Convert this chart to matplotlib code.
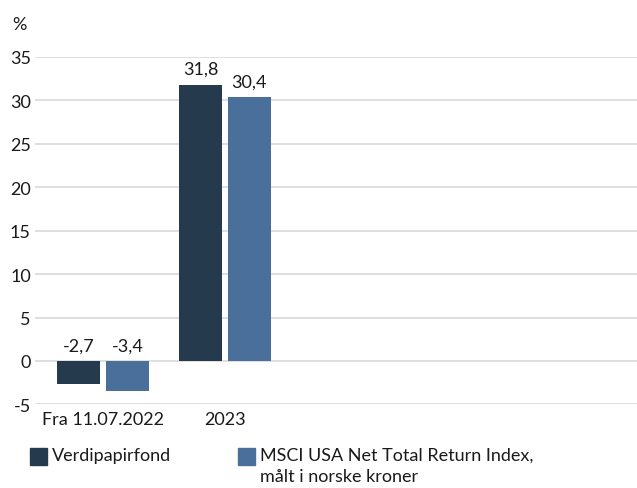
import numpy as np
import matplotlib
matplotlib.use("Agg")
import matplotlib.pyplot as plt
from matplotlib.patches import Rectangle

# data
categories = ["Fra 11.07.2022", "2023"]
fund = [-2.7, 31.8]
index = [-3.4, 30.4]
series_names = ["Verdipapirfond", "MSCI USA Net Total Return Index,\nmålt i norske kroner"]
yticks = [-5, 0, 5, 10, 15, 20, 25, 30, 35]

DARK = "#253a4c"
BLUE = "#4a6f9b"
GRID = "#d9d9d9"
TXT = "#1a1a1a"
FS = 13

plt.rcParams["font.family"] = ["Lato", "DejaVu Sans"]

fig = plt.figure(figsize=(6.37, 4.89), dpi=100)
W, H = 637, 489
# axes in pixel coords: left 35, right 637, y: -5 -> 405.4, 35 -> 58
ax = fig.add_axes([35 / W, 1 - 405.4 / H, (637 - 35) / W, (405.4 - 58) / H])

x = np.arange(len(categories))
bw = 0.35
off = 0.2
ax.bar(x - off, fund, bw, color=DARK, zorder=3)
ax.bar(x + off, index, bw, color=BLUE, zorder=3)

def lab(v):
    return f"{v:.1f}".replace(".", ",")

for xi, v in zip(x - off, fund):
    ax.text(xi, max(v, 0) + 0.9, lab(v), ha="center", va="bottom", fontsize=FS, color=TXT)
for xi, v in zip(x + off, index):
    ax.text(xi, max(v, 0) + 0.9, lab(v), ha="center", va="bottom", fontsize=FS, color=TXT)

ax.set_xlim((35 - 103) / 122, (637 - 103) / 122)
ax.set_ylim(-5, 35)
ax.set_yticks(yticks)
ax.set_yticklabels([str(t) for t in yticks], fontsize=FS, color=TXT)
ax.set_xticks(x)
ax.set_xticklabels(categories, fontsize=FS, color=TXT)
ax.tick_params(length=0, pad=3)
ax.tick_params(axis="x", pad=5)
ax.grid(axis="y", color=GRID, linewidth=1.2, zorder=0)
for s in ax.spines.values():
    s.set_visible(False)

fig.text(12 / W, 1 - 25 / H, "%", fontsize=FS, color=TXT, va="center", ha="left")

# legend
for px, col, name in [(30, DARK, series_names[0]), (238, BLUE, series_names[1])]:
    fig.patches.append(Rectangle((px / W, 1 - 466 / H), 17 / W, 17 / H,
                                 transform=fig.transFigure, color=col))
    fig.text((px + 22) / W, 1 - 448 / H, name, fontsize=FS, color=TXT,
             va="top", ha="left", linespacing=1.35)

fig.savefig("out.png", dpi=100)
